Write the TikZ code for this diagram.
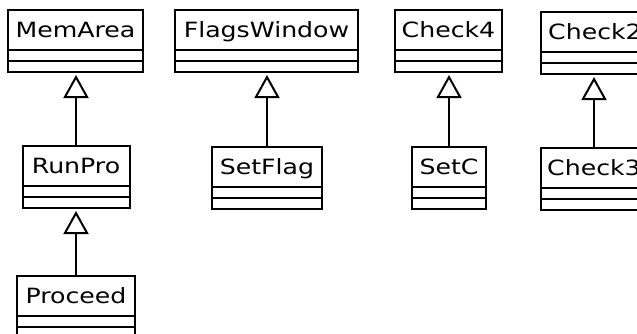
\documentclass[tikz,border=0pt]{standalone}
\usepackage{fontspec}
\setmainfont{DejaVu Sans}
\usetikzlibrary{arrows.meta}
\newcommand{\cname}[1]{\scalebox{1.2}[1]{#1}}
\tikzset{
  namebox/.style={draw, line width=2pt, inner sep=0pt, outer sep=0pt, anchor=north west,
    minimum height=40pt, text height=15pt, text depth=0pt, font=\fontsize{21}{22}\selectfont},
  compbox/.style={draw, line width=2pt, inner sep=0pt, outer sep=0pt, anchor=north west,
    minimum height=11pt},
  inherit/.style={line width=2pt, shorten >=3pt,
    -{Triangle[open, length=23pt, width=25pt, line width=2pt]}}
}
\begin{document}
\begin{tikzpicture}[x=1pt, y=-1pt]
\useasboundingbox (0,0) rectangle (637,333);
% MemArea
\node[namebox, minimum width=135pt] (mem) at (8,10) {\cname{MemArea}};
\node[compbox, minimum width=135pt] (mem1) at (mem.south west) {};
\node[compbox, minimum width=135pt] (mem2) at (mem1.south west) {};
% FlagsWindow
\node[namebox, minimum width=183pt] (flw) at (175,10) {\cname{FlagsWindow}};
\node[compbox, minimum width=183pt] (flw1) at (flw.south west) {};
\node[compbox, minimum width=183pt] (flw2) at (flw1.south west) {};
% Check4
\node[namebox, minimum width=107pt] (ch4) at (395,10) {\cname{Check4}};
\node[compbox, minimum width=107pt] (ch41) at (ch4.south west) {};
\node[compbox, minimum width=107pt] (ch42) at (ch41.south west) {};
% Check2
\node[namebox, minimum width=108pt] (ch2) at (541,12) {\cname{Check2}};
\node[compbox, minimum width=108pt] (ch21) at (ch2.south west) {};
\node[compbox, minimum width=108pt] (ch22) at (ch21.south west) {};
% RunPro
\node[namebox, minimum width=107pt] (run) at (22.5,146) {\cname{RunPro}};
\node[compbox, minimum width=107pt] (run1) at (run.south west) {};
\node[compbox, minimum width=107pt] (run2) at (run1.south west) {};
% Proceed
\node[namebox, minimum width=118pt] (pro) at (17,276) {\cname{Proceed}};
\node[compbox, minimum width=118pt] (pro1) at (pro.south west) {};
\node[compbox, minimum width=118pt] (pro2) at (pro1.south west) {};
% SetFlag
\node[namebox, minimum width=110pt] (sfl) at (212,147) {\cname{SetFlag}};
\node[compbox, minimum width=110pt] (sfl1) at (sfl.south west) {};
\node[compbox, minimum width=110pt] (sfl2) at (sfl1.south west) {};
% SetC
\node[namebox, minimum width=74pt] (setc) at (412,147) {\cname{SetC}};
\node[compbox, minimum width=74pt] (setc1) at (setc.south west) {};
\node[compbox, minimum width=74pt] (setc2) at (setc1.south west) {};
% Check3
\node[namebox, minimum width=106pt] (ch3) at (541,148) {\cname{Check3}};
\node[compbox, minimum width=106pt] (ch31) at (ch3.south west) {};
\node[compbox, minimum width=106pt] (ch32) at (ch31.south west) {};
% inheritance
\draw[inherit] (run.north) -- (run.north |- mem2.south);
\draw[inherit] (pro.north) -- (pro.north |- run2.south);
\draw[inherit] (sfl.north) -- (sfl.north |- flw2.south);
\draw[inherit] (setc.north) -- (setc.north |- ch42.south);
\draw[inherit] (ch3.north) -- (ch3.north |- ch22.south);
\end{tikzpicture}
\end{document}
